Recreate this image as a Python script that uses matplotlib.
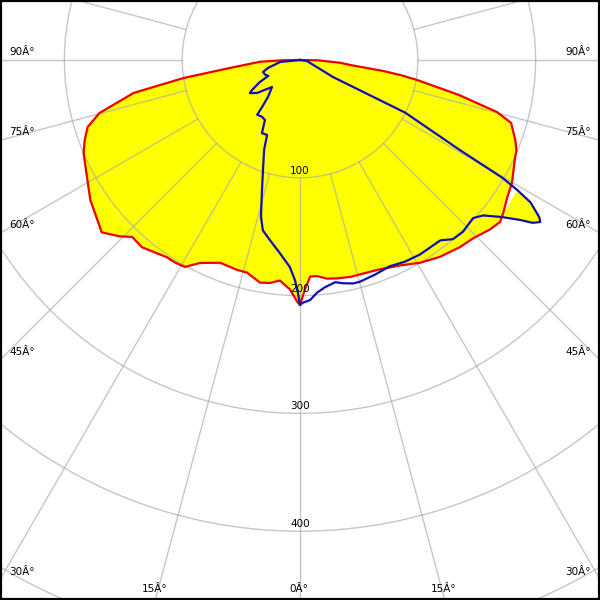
import numpy as np
import matplotlib
matplotlib.use("Agg")
import matplotlib.pyplot as plt

# C0-C180 plane (red, filled), angle in degrees (negative = left side), intensity
red_angle = [-90, -89, -87.5, -83.5, -81.2, -78.8, -75.2, -72.5, -69.6, -66.7,
             -62.2, -56.3, -51.8, -49.0, -45.6, -43.5, -40.2, -37.4, -34.0, -31.6,
             -29.1, -26.2, -21.5, -16.7, -14.0, -10.2, -7.7, -5.2, -2.5, -0.7,
             0, 1.2, 2.7, 4.5, 7.0, 9.6, 13.0, 15.7, 20.5, 26.0,
             30.6, 35.4, 40.6, 44.2, 48.2, 51.0, 53.0, 56.5, 59.9, 65.1,
             67.4, 69.6, 73.4, 75.2, 77.6, 80.3, 81.5, 82.5, 84.3, 86.1, 89, 90]
red_value = [0, 15, 34, 60, 100, 144, 176, 189, 195, 200,
             205, 214, 219, 223, 214, 207, 208, 205, 202, 202,
             201, 192, 185, 186, 186, 192, 191, 188, 195, 205,
             208, 195, 184, 184, 187, 188, 189, 189, 190, 194,
             200, 205, 209, 211, 216, 218.5, 216, 211, 208, 201,
             199, 195, 187, 173, 138, 101, 86, 71, 43, 34, 15, 0]

# C90-C270 plane (blue), points in drawing order
blue_angle = [-90, -84.3, -76, -72, -66.8, -63.4, -61.2, -58, -56.6, -52.5,
              -46, -40.9, -38.9, -38, -33.7, -30.3, -27.5, -23.7, -21.8, -18.6,
              -16.3, -14, -12.3, -9.5, -5.9, -2.8, -1.3, -0.5, 0, 0.7,
              2.4, 4.2, 6.3, 9, 10.9, 13.4, 15.1, 19.2, 23.6, 27.5,
              31.7, 37.9, 40.5, 43.5, 47.6, 49.7, 52.1, 54, 55, 56,
              56.7, 58.3, 59.1, 59.8, 60.6, 63.4, 62.7, 81.5, 90]
blue_value = [0, 17, 28, 33, 32, 30, 39, 48, 51, 46,
              33, 41.5, 51, 59, 58, 59, 70, 69.5, 82, 98.5,
              115, 137, 148, 155, 165, 176, 187, 198, 208, 206,
              204, 198, 194, 191, 193, 195, 195, 193, 191, 193,
              194, 194, 200, 201, 199, 204, 217, 231, 241, 246,
              243, 230, 215, 199, 156, 100, 31.5, 6, 0]

rings = [100, 200, 300, 400, 500]
spoke_angles = np.arange(0, 360, 15)
label_angles = [0, 15, 30, 45, 60, 75, 90]

PX = 1.178          # pixels per unit
W, H = 600, 600
CX, CY = 300, 60    # pole position in pixels


def polar_xy(angle, value):
    a = np.radians(np.asarray(angle, dtype=float))
    v = np.asarray(value, dtype=float)
    return v * np.sin(a), -v * np.cos(a)


def px_to_data(px, py):
    return (px - CX) / PX, (CY - py) / PX


fig = plt.figure(figsize=(6, 6), dpi=100)
ax = fig.add_axes([0, 0, 1, 1])
ax.set_xlim(-CX / PX, (W - CX) / PX)
ax.set_ylim(-(H - CY) / PX, CY / PX)
ax.set_xticks([])
ax.set_yticks([])
for sp in ax.spines.values():
    sp.set_linewidth(3)
    sp.set_color("black")

# yellow fill: red plane plus the part of the blue lobe sticking out on the right
rx, ry = polar_xy(red_angle, red_value)
ax.fill(rx, ry, color="#ffff00", zorder=1, lw=0)
tip = slice(46, 53)
bx, by = polar_xy(blue_angle, blue_value)
ax.fill(bx[tip], by[tip], color="#ffff00", zorder=1, lw=0)

# grid
t = np.linspace(0, 2 * np.pi, 400)
for r in rings:
    ax.plot(r * np.cos(t), r * np.sin(t), color="#a8a8a8", alpha=0.65, lw=1, zorder=2)
for a in spoke_angles:
    sx, sy = polar_xy([a, a], [rings[0], 700])
    ax.plot(sx, sy, color="#a8a8a8", alpha=0.65, lw=1, zorder=2)

# curves
ax.plot(rx, ry, color="#ee0000", lw=1.6, zorder=3)
ax.plot(bx, by, color="#1010b0", lw=1.6, zorder=4)

# ring labels
for r in rings[:4]:
    ax.text(0, -(r - 6), str(r), ha="center", va="center", fontsize=7.5, zorder=5)

# angle labels where each spoke leaves the frame
for a in label_angles:
    for side in ([1] if a == 0 else [-1, 1]):
        rad = np.radians(a)
        s, c = np.sin(rad), np.cos(rad)
        if c > 0 and s * (H - CY) / c <= CX:
            hx = CX + side * s * (H - CY) / c
            x, y = px_to_data(hx - 1, H - 11)
            ha = "center"
        else:
            hy = CY + c * CX / s
            if side < 0:
                x, y = px_to_data(9, hy - 8)
                ha = "left"
            else:
                x, y = px_to_data(W - 9, hy - 8)
                ha = "right"
        ax.text(x, y, f"{a}Â°", ha=ha, va="center", fontsize=7.5, zorder=5)

fig.savefig("out.png", dpi=100)
